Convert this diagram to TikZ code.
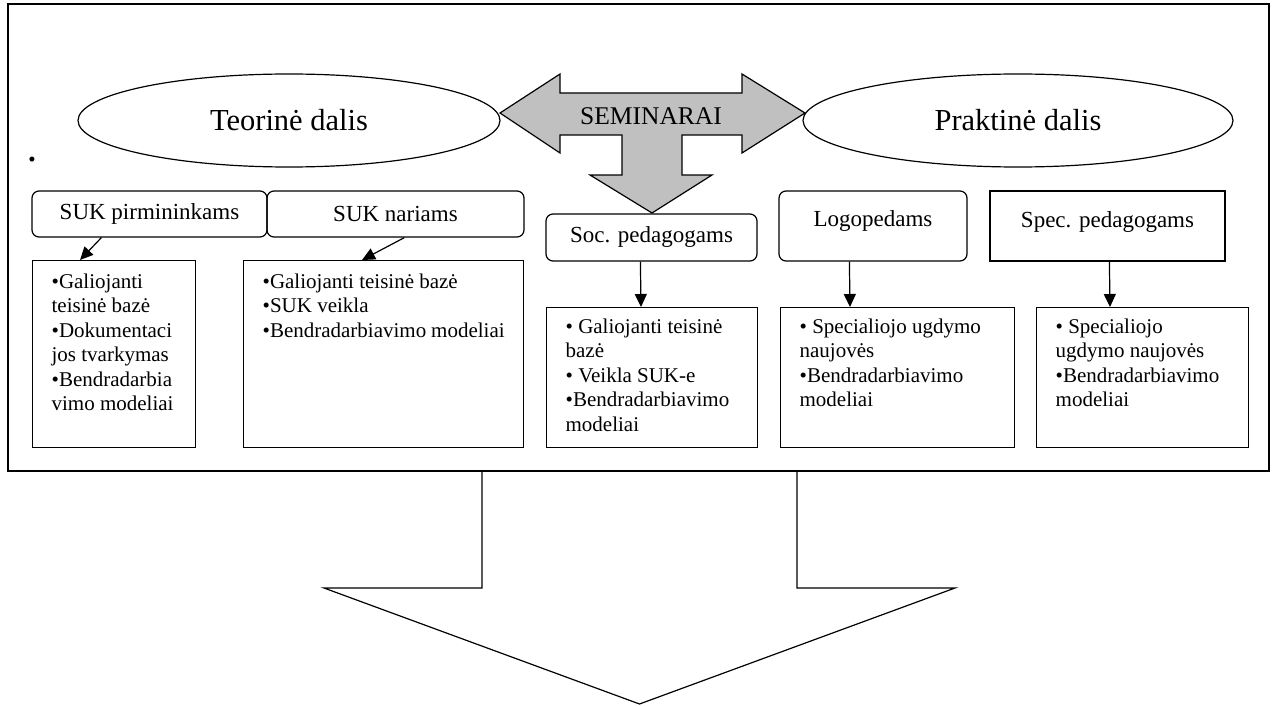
\documentclass[tikz,border=0pt]{standalone}
\usepackage{fontspec}
\setmainfont{Liberation Serif}
\usetikzlibrary{arrows.meta,shapes.geometric}
\definecolor{semgray}{HTML}{C0C0C0}

\begin{document}
\begin{tikzpicture}[x=1pt,y=-1pt,
  part/.style={draw, ellipse, line width=1.2pt, minimum width=422pt, minimum height=93pt, inner sep=0pt, font=\fontsize{30.5}{36}\selectfont},
  lab/.style={draw, rounded corners=7pt, line width=1.2pt, inner sep=0pt, font=\fontsize{23}{27}\selectfont},
  labsq/.style={lab, sharp corners},
  lst/.style={draw, anchor=north west, line width=1.3pt, inner xsep=19pt, font=\fontsize{21}{24.5}\selectfont},
  arr/.style={-{Triangle[length=13pt,width=12pt]}, line width=1.2pt}]
\useasboundingbox (0,0) rectangle (1277,706);
\draw[line width=1.2pt] (8,4) rectangle (1269,471);
\node[part] (teor) at (289,120.5) {Teorinė dalis};
\node[part, minimum width=430pt] (prakt) at (1018,120.5) {Praktinė dalis};
\filldraw[fill=semgray, line width=1.2pt] (500,113) -- (560,74) -- (560,93) -- (742,93) -- (742,74) -- (805,113) -- (742,153) -- (742,135) -- (682,135) -- (682,175) -- (712,175) -- (652,213) -- (590,175) -- (622,175) -- (622,135) -- (560,135) -- (560,153) -- cycle;
\node[font=\fontsize{25.5}{30}\selectfont] (sem) at (651,116) {SEMINARAI};
\node[font=\fontsize{21}{24}\selectfont] (dot) at (32,162) {•};

\node[lab, minimum width=235pt, minimum height=46pt] (sp) at (149.5,214) {SUK pirmininkams};
\node[lab, minimum width=257pt, minimum height=46pt] (sn) at (395.5,214) {SUK nariams};
\node[lab, minimum width=211pt, minimum height=47pt] (soc) at (651.5,237.5) {Soc. pedagogams};
\node[lab, minimum width=188pt, text height=30pt, text depth=30pt, inner ysep=5pt] (logo) at (873,226) {Logopedams};
\node[labsq, minimum width=235pt, text height=31pt, text depth=29pt, inner ysep=5pt] (spec) at (1107.5,226) {Spec. pedagogams};

\node[lst, inner ysep=13pt] (l1) at (32,260) {\parbox[t][161pt][t]{125pt}{•Galiojanti\\teisinė bazė\\•Dokumentaci\\jos tvarkymas\\•Bendradarbia\\vimo modeliai}};
\node[lst, inner ysep=13pt] (l2) at (243,260) {\parbox[t][161pt][t]{242pt}{•Galiojanti teisinė bazė\\•SUK veikla\\•Bendradarbiavimo modeliai}};
\node[lst, inner ysep=11pt] (l3) at (546,307) {\parbox[t][118pt][t]{173pt}{• Galiojanti teisinė\\bazė\\• Veikla SUK-e\\•Bendradarbiavimo\\modeliai}};
\node[lst, inner ysep=11pt] (l4) at (780,307) {\parbox[t][118pt][t]{196pt}{• Specialiojo ugdymo\\naujovės\\•Bendradarbiavimo\\modeliai}};
\node[lst, inner ysep=11pt] (l5) at (1036,307) {\parbox[t][118pt][t]{174pt}{• Specialiojo\\ugdymo naujovės\\•Bendradarbiavimo\\modeliai}};

\draw[arr] ([xshift=70pt]sp.south west) -- ([xshift=48pt]l1.north west);
\draw[arr] ([xshift=138pt]sn.south west) -- ([xshift=119pt]l2.north west);
\draw[arr] ([xshift=95pt]soc.south west) -- ([xshift=95pt]l3.north west);
\draw[arr] ([xshift=71pt]logo.south west) -- ([xshift=70pt]l4.north west);
\draw[arr] ([xshift=120pt]spec.south west) -- ([xshift=74pt]l5.north west);

\draw[line width=1.2pt] (482,471) -- (482,588) -- (324,588) -- (639.5,704) -- (955,588) -- (797,588) -- (797,471);
\end{tikzpicture}
\end{document}
